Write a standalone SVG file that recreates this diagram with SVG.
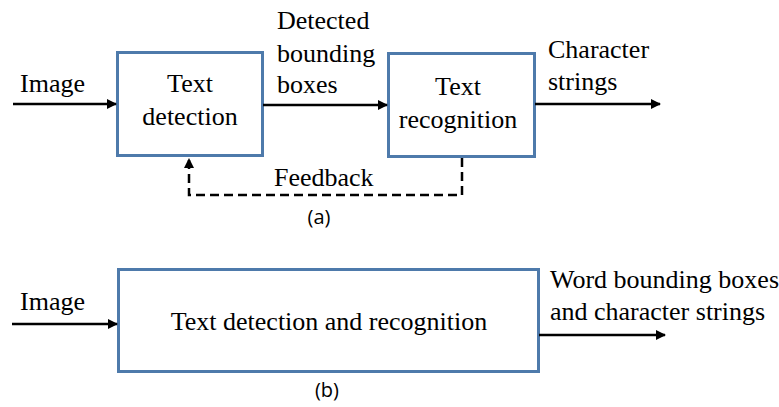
<svg xmlns="http://www.w3.org/2000/svg" width="779" height="407" viewBox="0 0 779 407">
  <style>
    .box { fill: #ffffff; stroke: #4e7aab; stroke-width: 3; }
    .wire { fill: none; stroke: #000000; stroke-width: 2.5; }
    .dash { fill: none; stroke: #000000; stroke-width: 2.5; stroke-dasharray: 9 5; }
  </style>
  <defs>
    <marker id="arrow" viewBox="0 0 10 10" refX="9" refY="5" markerWidth="4" markerHeight="4" orient="auto" markerUnits="strokeWidth">
      <path d="M0,0 L10,5 L0,10 Z" fill="#000000"/>
    </marker>
  </defs>

  <rect width="779" height="407" fill="#ffffff"/>

  <!-- (a) two-stage pipeline -->
  <g id="detection">
    <rect class="box" x="117.5" y="52.5" width="145" height="103"/>
    <text x="190" y="92" text-anchor="middle" font-family="'Liberation Serif'" font-size="26">Text</text>
    <text x="190" y="125" text-anchor="middle" font-family="'Liberation Serif'" font-size="26">detection</text>
  </g>
  <g id="recognition">
    <rect class="box" x="388.5" y="53.5" width="146" height="103"/>
    <text x="458" y="95" text-anchor="middle" font-family="'Liberation Serif'" font-size="26">Text</text>
    <text x="458" y="128" text-anchor="middle" font-family="'Liberation Serif'" font-size="26">recognition</text>
  </g>

  <!-- (b) end-to-end -->
  <g id="endtoend">
    <rect class="box" x="118.5" y="269.5" width="420" height="102"/>
    <text x="329" y="330" text-anchor="middle" font-family="'Liberation Serif'" font-size="26">Text detection and recognition</text>
  </g>

  <g id="labels">
    <text x="20" y="92" font-family="'Liberation Serif'" font-size="26">Image</text>
    <text x="277" y="29" font-family="'Liberation Serif'" font-size="26">Detected</text>
    <text x="277" y="62" font-family="'Liberation Serif'" font-size="26">bounding</text>
    <text x="277" y="93" font-family="'Liberation Serif'" font-size="26">boxes</text>
    <text x="548" y="58" font-family="'Liberation Serif'" font-size="26">Character</text>
    <text x="548" y="90" font-family="'Liberation Serif'" font-size="26">strings</text>
    <text x="274" y="186" font-family="'Liberation Serif'" font-size="26">Feedback</text>
    <text x="20" y="310" font-family="'Liberation Serif'" font-size="26">Image</text>
    <text x="550" y="288" font-family="'Liberation Serif'" font-size="26">Word bounding boxes</text>
    <text x="550" y="320" font-family="'Liberation Serif'" font-size="26">and character strings</text>
    <text x="319" y="224" text-anchor="middle" font-family="Open Sans" font-size="20">(a)</text>
    <text x="327" y="397" text-anchor="middle" font-family="Open Sans" font-size="20">(b)</text>
  </g>

  <g id="connectors">
    <line class="wire" x1="13" y1="104" x2="116" y2="104" marker-end="url(#arrow)"/>
    <line class="wire" x1="263" y1="105" x2="387" y2="105" marker-end="url(#arrow)"/>
    <line class="wire" x1="535" y1="104" x2="660" y2="104" marker-end="url(#arrow)"/>
    <path class="dash" d="M462,158 L462,195 L189,195 L189,159" marker-end="url(#arrow)"/>
    <line class="wire" x1="12" y1="324" x2="117" y2="324" marker-end="url(#arrow)"/>
    <line class="wire" x1="539" y1="335" x2="665" y2="335" marker-end="url(#arrow)"/>
  </g>
</svg>
